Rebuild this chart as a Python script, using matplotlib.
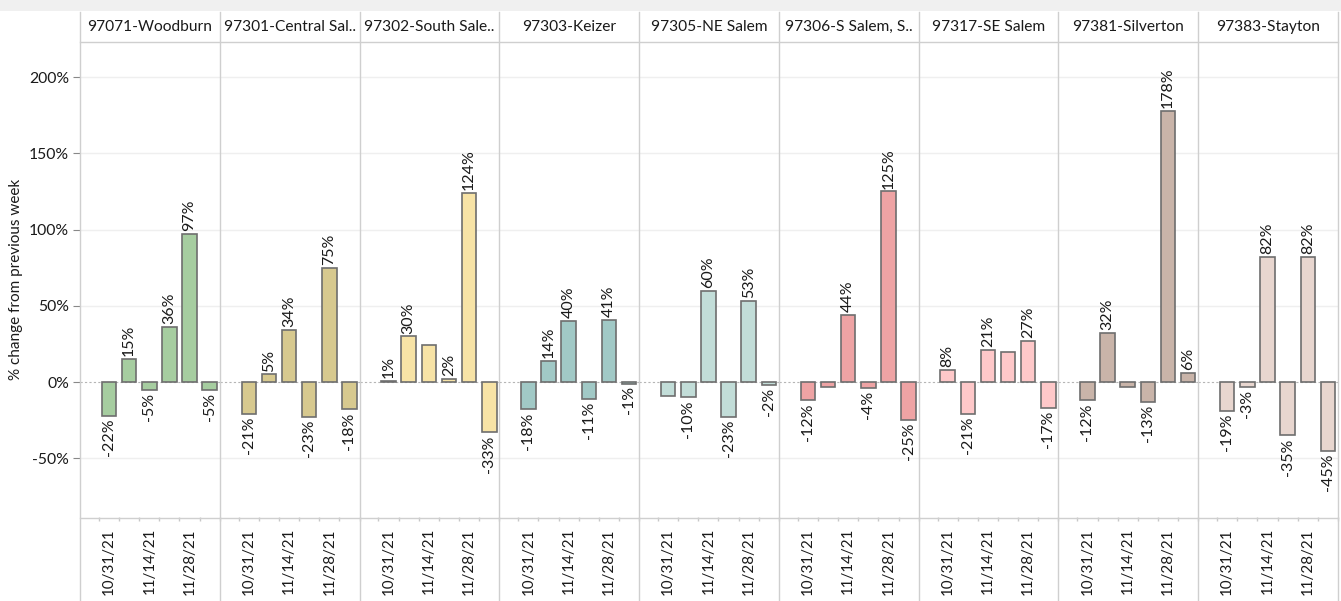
import matplotlib
matplotlib.use("Agg")
import matplotlib.pyplot as plt
from matplotlib.lines import Line2D
from matplotlib.patches import Rectangle

plt.rcParams['font.family'] = ['Lato', 'DejaVu Sans']

panels = ["97071-Woodburn", "97301-Central Sal..", "97302-South Sale..", "97303-Keizer",
          "97305-NE Salem", "97306-S Salem, S..", "97317-SE Salem", "97381-Silverton",
          "97383-Stayton"]
weeks = ["10/31/21", "11/7/21", "11/14/21", "11/21/21", "11/28/21", "12/5/21"]
values = [
    [-22, 15, -5, 36, 97, -5],
    [-21, 5, 34, -23, 75, -18],
    [1, 30, 24, 2, 124, -33],
    [-18, 14, 40, -11, 41, -1],
    [-9, -10, 60, -23, 53, -2],
    [-12, -3, 44, -4, 125, -25],
    [8, -21, 21, 20, 27, -17],
    [-12, 32, -3, -13, 178, 6],
    [-19, -3, 82, -35, 82, -45],
]
# which bars carry a visible label (others hidden as overlapping)
shown = [
    [1, 1, 1, 1, 1, 1],
    [1, 1, 1, 1, 1, 1],
    [1, 1, 0, 1, 1, 1],
    [1, 1, 1, 1, 1, 1],
    [0, 1, 1, 1, 1, 1],
    [1, 0, 1, 1, 1, 1],
    [1, 1, 1, 0, 1, 1],
    [1, 1, 0, 1, 1, 1],
    [1, 1, 1, 1, 1, 1],
]
colors = ["#a6cda0", "#d7c98f", "#f7e3a6", "#a1c9c6", "#c2ddd8",
          "#eea3a4", "#fec8c9", "#c9b4a9", "#e8d6cf"]
yticks = [-50, 0, 50, 100, 150, 200]

W, H = 1341, 601
fig = plt.figure(figsize=(W / 100, H / 100), dpi=100)

def fx(px):
    return px / W

def fy(py):
    return 1 - py / H

# top gray band
fig.patches.append(Rectangle((0, fy(11)), 1, 11 / H, transform=fig.transFigure,
                             facecolor="#f0f0f0", edgecolor="none", zorder=0))

x0, x1 = 80, 1338
pw = (x1 - x0) / len(panels)
ytop, ybot = 42, 517
grid_c = "#cfcfcf"
txt_c = "#1a1a1a"
xs = list(range(len(weeks)))

for i, (name, vals, sh, col) in enumerate(zip(panels, values, shown, colors)):
    ax = fig.add_axes([fx(x0 + i * pw), fy(ybot), pw / W, (ybot - ytop) / H])
    ax.set_xlim(-1.44, 5.45)
    ax.set_ylim(-88.5, 223)
    for s in ax.spines.values():
        s.set_visible(False)
    for t in yticks:
        if t != 0:
            ax.axhline(t, color="#efefef", lw=1, zorder=0)
    ax.axhline(0, color="#b5b5b5", lw=0.8, ls=(0, (2, 2)), zorder=1)
    ax.bar(xs, vals, width=0.72, color=col, edgecolor="#6e6e6e", linewidth=1.2, zorder=2)
    for x, v, s in zip(xs, vals, sh):
        if not s:
            continue
        if v >= 0:
            ax.annotate(f"{v}%", (x, v), xytext=(0, 2), textcoords="offset points",
                        rotation=90, ha="center", va="bottom", fontsize=11.5, color=txt_c)
        else:
            ax.annotate(f"{v}%", (x, v), xytext=(0, -2), textcoords="offset points",
                        rotation=90, ha="center", va="top", fontsize=11.5, color=txt_c)
    ax.set_xticks([0, 2, 4])
    ax.set_xticklabels([weeks[0], weeks[2], weeks[4]], rotation=90, fontsize=10.9, color=txt_c)
    ax.set_xticks([k - 0.5 for k in range(7)], minor=True)
    ax.tick_params(axis="x", which="major", length=0, pad=8)
    ax.tick_params(axis="x", which="minor", length=3, color="#c8c8c8", width=1)
    if i == 0:
        ax.set_yticks(yticks)
        ax.set_yticklabels([f"{t}%" for t in yticks], fontsize=11.3, color=txt_c)
        ax.tick_params(axis="y", length=5, color="#888888", width=0.8, pad=3)
        ax.set_ylabel("% change from previous week", fontsize=11, color=txt_c, labelpad=4)
    else:
        ax.set_yticks([])
    fig.text(fx(x0 + i * pw + pw / 2), fy(27), name, ha="center", va="center",
             fontsize=11.2, color=txt_c)

# separators
for i in range(len(panels) + 1):
    xp = x0 + i * pw
    fig.add_artist(Line2D([fx(xp), fx(xp)], [fy(12), fy(601)], transform=fig.transFigure,
                          color=grid_c, lw=1))
fig.add_artist(Line2D([fx(x0), fx(x1)], [fy(42), fy(42)], transform=fig.transFigure,
                      color=grid_c, lw=1))
fig.add_artist(Line2D([fx(x0), fx(x1)], [fy(518), fy(518)], transform=fig.transFigure,
                      color=grid_c, lw=1))

fig.savefig("out.png", dpi=100)
